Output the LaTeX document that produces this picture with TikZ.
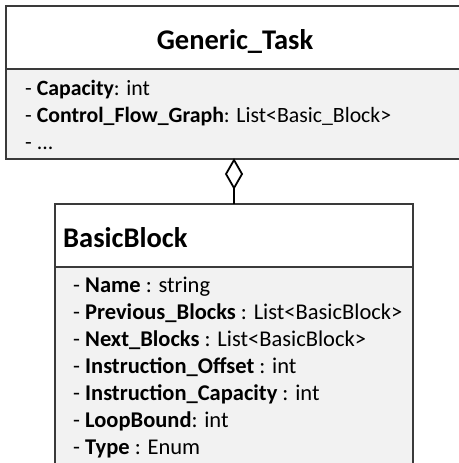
\documentclass[tikz,border=0pt]{standalone}
\usepackage{fontspec}
\setmainfont{Carlito}
\definecolor{attrgray}{HTML}{F2F2F2}
\definecolor{edgegray}{HTML}{3A3A3A}
\begin{document}
\begin{tikzpicture}[x=1pt,y=-1pt,
  classbox/.style={draw=edgegray,line width=1.4pt},
  attr/.style={anchor=base west,inner sep=0pt,font=\fontsize{22.5}{27}\selectfont},
  topattr/.style={attr,font=\fontsize{21.8}{27}\selectfont},
  title/.style={inner sep=0pt,font=\fontsize{28.5}{33}\selectfont\bfseries},
  agg/.style={draw=black,fill=white,line width=1.8pt,line join=miter}]
\useasboundingbox (0,0) rectangle (458,463);

% Generic_Task class
\fill[white] (6,6) rectangle (470,69);
\fill[attrgray] (6,69) rectangle (470,159);
\draw[classbox] (470,6) -- (6,6) -- (6,159) -- (470,159);
\draw[classbox] (6,69) -- (470,69);
\node[title,anchor=base] (gt) at (235,49) {Generic\_Task};
\node[topattr] (gta) at (25,95) {- \textbf{Capacity}: int};
\node[topattr] (gtb) at (25,122) {- \textbf{Control\_Flow\_Graph}: List<Basic\_Block>};
\node[topattr] (gtc) at (25,149) {- ...};

% BasicBlock class
\fill[white] (55,204) rectangle (413,267);
\fill[attrgray] (55,267) rectangle (413,475);
\draw[classbox] (55,475) -- (55,204) -- (413,204) -- (413,475);
\draw[classbox] (55,267) -- (413,267);
\node[title,anchor=base west] (bb) at (63,247) {BasicBlock};
\node[attr] (b1) at (73,292) {- \textbf{Name} : string};
\node[attr] (b2) at (73,319) {- \textbf{Previous\_Blocks} : List<BasicBlock>};
\node[attr] (b3) at (73,346) {- \textbf{Next\_Blocks} : List<BasicBlock>};
\node[attr] (b4) at (73,373) {- \textbf{Instruction\_Offset} : int};
\node[attr] (b5) at (73,400) {- \textbf{Instruction\_Capacity} : int};
\node[attr] (b6) at (73,427) {- \textbf{LoopBound}: int};
\node[attr] (b7) at (73,454) {- \textbf{Type} : Enum};

% aggregation connector
\coordinate (dtop) at (234,160);
\coordinate (dbot) at (234,188);
\coordinate (bbtop) at (234,204);
\draw[agg] (dtop) -- (242,174) -- (dbot) -- (226,174) -- cycle;
\draw[line width=2.4pt] (dbot) -- (bbtop);
\end{tikzpicture}
\end{document}
